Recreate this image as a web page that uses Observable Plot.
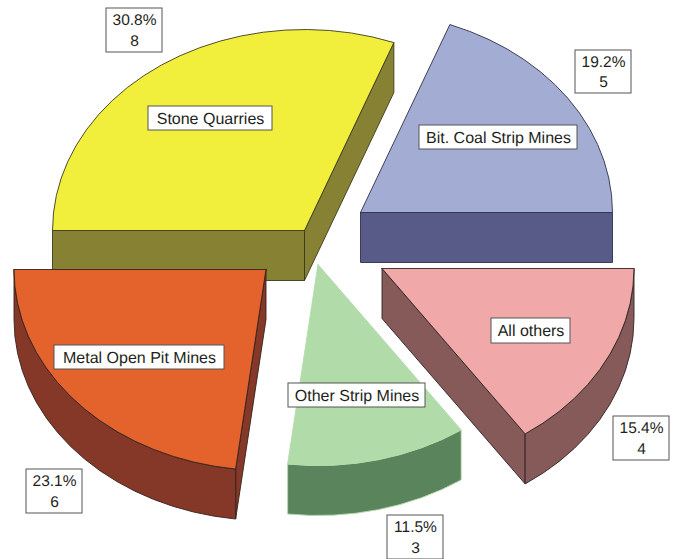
<!DOCTYPE html>
<html>
<head>
<meta charset="utf-8">
<script src="https://cdn.jsdelivr.net/npm/d3@7"></script>
<script src="https://cdn.jsdelivr.net/npm/@observablehq/plot@0.6"></script>
<style>
html,body{margin:0;padding:0;background:#fff;overflow:hidden}
svg{display:block}
</style>
</head>
<body>
<div id="chart"></div>
<script>
// Data, counter-clockwise from the 3 o'clock direction
const names = ["Bit. Coal Strip Mines", "Stone Quarries", "Metal Open Pit Mines", "Other Strip Mines", "All others"];
const counts = [5, 8, 6, 3, 4];

// Styles
const topColors = ["#a3acd3", "#f2ee3c", "#e4622c", "#b2dbaa", "#f0a8a8"];
const sideColors = ["#585a87", "#878233", "#853828", "#5a855c", "#875a5a"];
const edgeColors = ["#2f2f4a", "#3c3a1e", "#33231e", "#b2dbaa", "#2e2424"];

// Layout (pixel frame of the picture)
const centerX = [360, 304, 265.5, 317.5, 381.5];
const centerY = [212, 230, 269, 264, 268];
const nameBoxX = [[419, 577], [148, 272], [54, 224], [288, 425], [491, 570]];
const nameBoxY = [[125, 149], [106, 130], [345, 369], [383, 407], [318, 343]];
const valueBoxX = [[575, 631], [106, 162], [26, 82], [387, 443], [613, 669]];
const valueBoxY = [[50, 93], [8, 52], [469, 513], [515, 559], [416, 460]];
const rx = 252, ry = 201, depth = 50, stepDeg = 5;

const total = d3.sum(counts);
const cum = d3.cumsum(counts);

const faces = [];
let faceId = 0;
function face(pts, fill, stroke) {
  const id = faceId++;
  [...pts, pts[0]].forEach(([x, y]) => faces.push({x, y, id, fill, stroke}));
}
const down = ([x, y]) => [x, y + depth];
function arcPoints(i, d1, d2) {
  const n = Math.max(1, Math.round((d2 - d1) / stepDeg));
  return d3.range(n + 1).map(k => {
    const a = (d1 + (d2 - d1) * k / n) * Math.PI / 180;
    return [centerX[i] + rx * Math.cos(a), centerY[i] - ry * Math.sin(a)];
  });
}
function addSlice(i) {
  const a1 = (i ? cum[i - 1] : 0) / total * 360, a2 = cum[i] / total * 360;
  const arc = arcPoints(i, a1, a2);
  const apex = [centerX[i], centerY[i]];
  const side = sideColors[i], edge = edgeColors[i], top = topColors[i];
  const wall = (a, b) => face([a, b, down(b), down(a)], side, edge);
  // only the faces a viewer above and in front of the pie can see
  if (Math.cos(a1 * Math.PI / 180) > 0) wall(apex, arc[0]);
  if (Math.cos(a2 * Math.PI / 180) < 0) wall(apex, arc[arc.length - 1]);
  const r1 = Math.max(a1, 180), r2 = Math.min(a2, 360);
  if (r2 > r1) {
    const rim = arcPoints(i, r1, r2);
    face([...rim, ...rim.map(down).reverse()], side, edge);
  }
  face([apex, ...arc], top, edge);
}
// back-to-front painter's order
[1, 0, 3, 4, 2].forEach(addSlice);

const labelRows = names.map((name, i) => ({
  text: name, x1: nameBoxX[i][0], x2: nameBoxX[i][1], y1: nameBoxY[i][0], y2: nameBoxY[i][1]
}));
const valueRows = counts.map((c, i) => ({
  text: `${(c / total * 100).toFixed(1)}%\n${c}`,
  x1: valueBoxX[i][0], x2: valueBoxX[i][1], y1: valueBoxY[i][0], y2: valueBoxY[i][1]
}));
const boxes = [...labelRows, ...valueRows];

const textMark = (rows, fontSize) => Plot.text(rows, {
  x: d => (d.x1 + d.x2) / 2,
  y: d => (d.y1 + d.y2) / 2 - 1.5,
  text: "text", fill: "#231f20",
  fontFamily: "Liberation Sans, Arial, sans-serif", fontSize, lineHeight: 1.3
});

const plot = Plot.plot({
  width: 673, height: 559,
  margin: 0,
  x: {type: "identity", axis: null},
  y: {type: "identity", axis: null},
  marks: [
    Plot.line(faces, {x: "x", y: "y", z: "id", fill: d => d.fill, stroke: d => d.stroke, strokeWidth: 0.9, curve: "linear", strokeLinejoin: "round"}),
    Plot.rect(boxes, {x1: "x1", x2: "x2", y1: "y1", y2: "y2", fill: "white", stroke: "#555", strokeWidth: 1}),
    textMark(labelRows, 16),
    textMark(valueRows, 15.5)
  ],
  style: {background: "white", overflow: "hidden", textRendering: "geometricPrecision"}
});
document.getElementById("chart").appendChild(plot);
</script>
</body>
</html>
